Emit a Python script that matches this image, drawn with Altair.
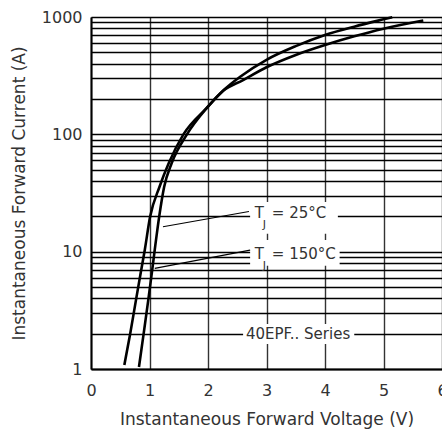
import altair as alt
import pandas as pd

# Curve readings (forward voltage V, forward current A)
v_25 = [0.82, 0.90, 0.98, 1.04, 1.09, 1.165, 1.25, 1.38, 1.64, 1.98, 2.27, 2.55, 3.00, 3.50, 4.00, 4.50, 5.00, 5.15]
i_25 = [1.04, 2.0, 3.9, 6.6, 10.4, 19.8, 35.6, 57, 100, 168, 239, 310, 432, 565, 703, 827, 955, 996]
v_150 = [0.57, 0.67, 0.77, 0.85, 0.92, 1.01, 1.17, 1.33, 1.58, 1.98, 2.26, 2.60, 3.00, 3.50, 4.00, 4.50, 5.00, 5.68]
i_150 = [1.08, 2.0, 3.9, 6.6, 10.4, 19.8, 35.6, 57, 100, 168, 235, 290, 373, 475, 577, 684, 794, 932]

x_ticks = [0, 1, 2, 3, 4, 5, 6]
y_grid = [1, 2, 3, 4, 5, 6, 7, 8, 9,
          10, 20, 30, 40, 50, 60, 70, 80, 90,
          100, 200, 300, 400, 500, 600, 700, 800, 900, 1000]

# Annotation labels
lab_x = [2.80, 2.80]
lab_y = [19.4, 8.66]
lab_main = ["T", "T"]
lab_sub = ["J", "J"]
lab_rest = ["= 25°C", "= 150°C"]

# White boxes behind annotation text
box_x = [2.72, 2.72, 2.60]
box_x2 = [4.22, 4.25, 4.50]
box_y = [14.2, 7.6, 1.63]
box_y2 = [26.5, 12.6, 2.42]

# Leader lines
lead_x = [2.70, 2.72]
lead_y = [22.0, 10.3]
lead_x2 = [1.23, 1.09]
lead_y2 = [16.3, 7.2]

series_x = [3.54]
series_y = [1.99]
series_text = ["40EPF.. Series"]

FONT = "DejaVu Sans"
TXT = "#333333"

curves = pd.DataFrame({
    "V": v_25 + v_150,
    "I": i_25 + i_150,
    "T": ["25"] * len(v_25) + ["150"] * len(v_150),
})
labels = pd.DataFrame({"V": lab_x, "I": lab_y, "m": lab_main, "s": lab_sub, "r": lab_rest})
boxes = pd.DataFrame({"V": box_x, "V2": box_x2, "I": box_y, "I2": box_y2})
leads = pd.DataFrame({"V": lead_x, "I": lead_y, "V2": lead_x2, "I2": lead_y2})
series = pd.DataFrame({"V": series_x, "I": series_y, "t": series_text})

xs = alt.Scale(domain=[0, 6], nice=False, zero=False)
ys = alt.Scale(type="log", domain=[1, 1000], nice=False)

x_axis = alt.Axis(
    values=x_ticks, format="d", title="Instantaneous Forward Voltage (V)",
    grid=True, gridColor="#333333", gridWidth=1.4,
    domainColor="black", domainWidth=2, ticks=False,
    labelPadding=13, labelFont=FONT, labelFontSize=16, labelColor=TXT,
    titleFont=FONT, titleFontSize=17, titleFontWeight="normal", titleColor=TXT,
    titlePadding=13, labelOverlap=False, labelFlush=False,
)
y_axis = alt.Axis(
    values=y_grid, format="d",
    labelExpr="(datum.value == 1 || datum.value == 10 || datum.value == 100 || datum.value == 1000) ? datum.label : ''",
    title="Instantaneous Forward Current (A)",
    grid=True, gridColor="black", gridWidth=1.5,
    domainColor="black", domainWidth=2, ticks=False,
    labelPadding=9, labelFont=FONT, labelFontSize=16, labelColor=TXT,
    titleFont=FONT, titleFontSize=17, titleFontWeight="normal", titleColor=TXT,
    titlePadding=13, labelOverlap=False, labelFlush=False,
)

line_layer = alt.Chart(curves).mark_line(color="black", strokeWidth=2.6, interpolate="monotone").encode(
    x=alt.X("V:Q", scale=xs, axis=x_axis),
    y=alt.Y("I:Q", scale=ys, axis=y_axis),
    detail="T:N",
)

box_layer = alt.Chart(boxes).mark_rect(fill="white").encode(
    x=alt.X("V:Q", scale=xs), x2="V2:Q",
    y=alt.Y("I:Q", scale=ys), y2="I2:Q",
)

lead_layer = alt.Chart(leads).mark_rule(color="black", strokeWidth=1.1).encode(
    x=alt.X("V:Q", scale=xs), x2="V2:Q",
    y=alt.Y("I:Q", scale=ys), y2="I2:Q",
)

t_main = alt.Chart(labels).mark_text(
    align="left", baseline="alphabetic", font=FONT, fontSize=15, color=TXT
).encode(x=alt.X("V:Q", scale=xs), y=alt.Y("I:Q", scale=ys), text="m:N")

t_sub = alt.Chart(labels).mark_text(
    align="left", baseline="alphabetic", font=FONT, fontSize=11, color=TXT, dx=8, dy=10
).encode(x=alt.X("V:Q", scale=xs), y=alt.Y("I:Q", scale=ys), text="s:N")

t_rest = alt.Chart(labels).mark_text(
    align="left", baseline="alphabetic", font=FONT, fontSize=15, color=TXT, dx=17
).encode(x=alt.X("V:Q", scale=xs), y=alt.Y("I:Q", scale=ys), text="r:N")

t_series = alt.Chart(series).mark_text(
    align="center", baseline="middle", font=FONT, fontSize=15, color=TXT
).encode(x=alt.X("V:Q", scale=xs), y=alt.Y("I:Q", scale=ys), text="t:N")

chart = alt.layer(
    line_layer, box_layer, lead_layer, t_main, t_sub, t_rest, t_series
).properties(
    width=351, height=352,
    autosize=alt.AutoSizeParams(type="none"),
    padding={"left": 91, "top": 17, "right": 0, "bottom": 66},
    background="white",
).configure_view(strokeWidth=0)

chart.save("out.html", embed_options={"renderer": "svg", "actions": False})
